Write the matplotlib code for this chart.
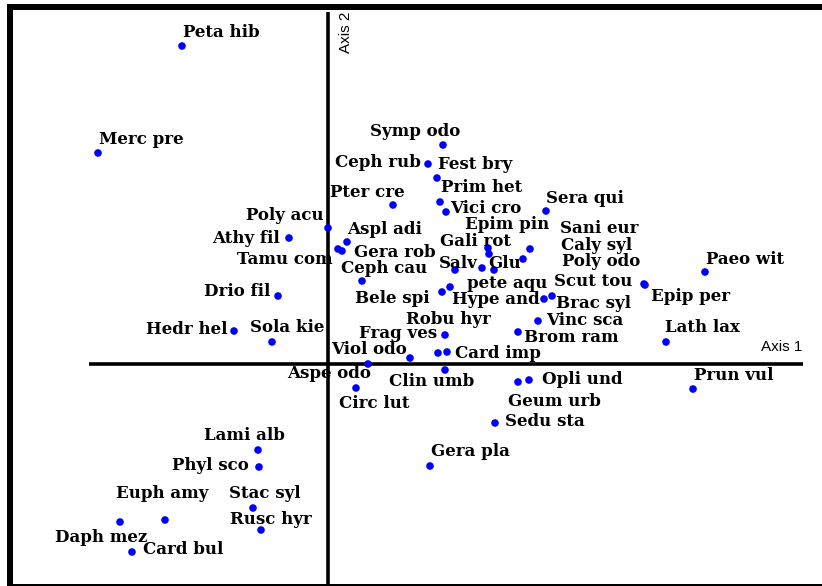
import matplotlib

matplotlib.use("Agg")
import matplotlib.pyplot as plt
from matplotlib.patches import Rectangle

# species scores on the first two ordination axes
SPECIES = [
    "Peta hib", "Merc pre", "Symp odo", "Ceph rub", "Fest bry", "Pter cre",
    "Prim het", "Vici cro", "Sera qui", "Poly acu", "Aspl adi", "Gera rob",
    "Tamu com", "Athy fil", "Ceph cau", "Epim pin", "Gali rot", "Sani eur",
    "Caly syl", "Poly odo", "Salv", "Glu", "Paeo wit", "Scut tou",
    "Epip per", "pete aqu", "Bele spi", "Hype and", "Brac syl", "Drio fil",
    "Vinc sca", "Brom ram", "Robu hyr", "Frag ves", "Card imp", "Lath lax",
    "Hedr hel", "Sola kie", "Viol odo", "Aspe odo", "Clin umb", "Opli und",
    "Geum urb", "Prun vul", "Circ lut", "Sedu sta", "Gera pla", "Lami alb",
    "Phyl sco", "Euph amy", "Daph mez", "Stac syl", "Rusc hyr", "Card bul",
]
AXIS1 = [
    -1.46, -2.30, 1.15, 1.00, 1.09, 0.65,
    1.12, 1.18, 2.18, 0.00, 0.19, 0.14,
    0.10, -0.39, 0.34, 1.60, 1.61, 2.02,
    1.95, 1.54, 1.27, 1.66, 3.77, 3.16,
    3.17, 1.22, 1.14, 2.16, 2.24, -0.50,
    2.10, 1.90, 1.17, 1.10, 1.19, 3.38,
    -0.94, -0.56, 0.82, 0.40, 1.17, 2.01,
    1.90, 3.65, 0.28, 1.67, 1.02, -0.70,
    -0.69, -1.63, -2.08, -0.75, -0.67, -1.96,
]
AXIS2 = [
    3.18, 2.11, 2.19, 2.00, 1.86, 1.59,
    1.62, 1.52, 1.53, 1.36, 1.22, 1.13,
    1.15, 1.26, 0.83, 1.16, 1.10, 1.15,
    1.05, 0.96, 0.94, 0.94, 0.92, 0.80,
    0.79, 0.77, 0.72, 0.65, 0.68, 0.68,
    0.43, 0.32, 0.29, 0.11, 0.12, 0.22,
    0.33, 0.22, 0.06, 0.00, -0.06, -0.16,
    -0.18, -0.25, -0.24, -0.59, -1.02, -0.86,
    -1.03, -1.56, -1.58, -1.44, -1.66, -1.88,
]

# label placement (pixels from the point, alignment)
LABEL_POS = [
    (1, 14, "left"), (1, 14, "left"), (-73, 14, "left"), (-7, 2, "right"),
    (1, 14, "left"), (-63, 13, "left"), (1, 14, "left"), (4, 4, "left"),
    (0, 13, "left"), (-4, 13, "right"), (0, 13, "left"), (12, -1, "left"),
    (-5, -10, "right"), (-9, 0, "right"), (-21, 13, "left"), (-23, 24, "left"),
    (-49, 13, "left"), (30, 21, "left"), (38, 14, "left"), (80, 7, "left"),
    (-16, 7, "left"), (-6, 7, "left"), (1, 13, "left"), (-12, 2, "right"),
    (6, -11, "left"), (17, 4, "left"), (-12, -6, "right"), (-4, -1, "right"),
    (4, -7, "left"), (-8, 4, "right"), (8, 1, "left"), (6, -6, "left"),
    (-39, 15, "left"), (-1, 20, "right"), (8, -2, "left"), (-1, 14, "left"),
    (-7, 2, "right"), (-22, 14, "left"), (-3, 9, "right"), (3, -9, "right"),
    (-56, -12, "left"), (13, 0, "left"), (-10, -19, "left"), (1, 13, "left"),
    (-17, -16, "left"), (10, 2, "left"), (1, 14, "left"), (-54, 15, "left"),
    (-10, 2, "right"), (-49, 27, "left"), (-65, -16, "left"), (-24, 15, "left"),
    (-31, 10, "left"), (11, 2, "left"),
]

W, H = 822, 586
fig = plt.figure(figsize=(W / 100, H / 100), dpi=100)
fig.patch.set_facecolor("white")
ax = fig.add_axes([0, 0, 1, 1])
ax.set_xlim(-3.28, 4.94)
ax.set_ylim(-2.22, 3.64)
ax.axis("off")


def px_rect(x0, y0, x1, y1):
    # rectangle given in image pixels (y downwards)
    fig.add_artist(Rectangle((x0 / W, 1 - y1 / H), (x1 - x0) / W, (y1 - y0) / H,
                             transform=fig.transFigure, facecolor="black",
                             edgecolor="none"))


px_rect(7, 4, 12.5, 586)
px_rect(7, 4, 822, 10)
px_rect(7, 583.5, 822, 585.5)

ax.plot([-2.39, 4.75], [0, 0], color="black", lw=2.6, solid_capstyle="butt")
ax.plot([0, 0], [-2.22, 3.52], color="black", lw=2.6, solid_capstyle="butt")
ax.text(4.74, 0.17, "Axis 1", family="Liberation Sans", fontsize=11,
        ha="right", va="center")
ax.text(0.18, 3.52, "Axis 2", family="Liberation Sans", fontsize=11,
        ha="center", va="top", rotation=90)

ax.scatter(AXIS1, AXIS2, s=30, color="#0000ff", edgecolor="none", zorder=3)
for name, x, y, (dx, dy, ha) in zip(SPECIES, AXIS1, AXIS2, LABEL_POS):
    ax.annotate(name, (x, y), xytext=(dx, dy), textcoords="offset pixels",
                ha=ha, va="center", family="DejaVu Serif", fontweight="bold",
                fontsize=12, color="black", zorder=4)

fig.savefig("out.png", dpi=100)
